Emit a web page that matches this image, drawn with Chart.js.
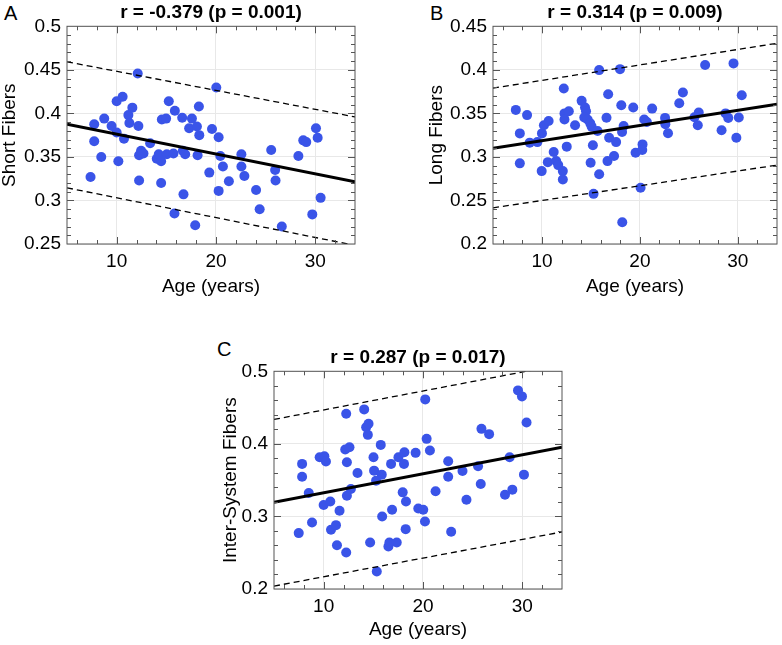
<!DOCTYPE html>
<html>
<head>
<meta charset="utf-8">
<script src="https://cdn.jsdelivr.net/npm/chart.js@4.4.1/dist/chart.umd.min.js"></script>
<style>
  body { margin: 0; background: #fff; }
  #wrap { position: relative; width: 782px; height: 645px; font-family: "Liberation Sans", Arial, sans-serif; }
  .panel { position: absolute; }
  .tag { position: absolute; font-size: 20px; line-height: 20px; color: #000; }
</style>
</head>
<body>
<div id="wrap">
  <div class="tag" style="left:4px;top:3px">A</div>
  <div class="tag" style="left:430px;top:3px">B</div>
  <div class="tag" style="left:217px;top:339px">C</div>
  <div class="panel" style="left:0px;top:0px"><canvas id="chartA" width="360" height="296"></canvas></div>
  <div class="panel" style="left:427px;top:0px"><canvas id="chartB" width="355" height="296"></canvas></div>
  <div class="panel" style="left:221px;top:345px"><canvas id="chartC" width="346" height="294"></canvas></div>
</div>
<script>
// ages (years) and fiber values
const ageA = [7.37, 7.74, 7.74, 8.45, 8.75, 9.49, 10.0, 10.6, 10.0, 10.17, 10.74, 11.18, 11.58, 11.28,
  12.12, 12.19, 12.26, 12.26, 12.46, 12.7, 13.37, 14.04, 14.24, 14.48, 14.55, 14.48, 14.98, 15.25,
  15.05, 15.72, 15.86, 15.82, 16.6, 16.67, 16.9, 16.73, 17.3, 17.58, 18.08, 18.28, 18.32, 18.15,
  17.91, 19.33, 19.6, 20.03, 20.27, 20.44, 20.27, 20.7, 21.3, 22.56, 22.56, 22.86, 24.04, 24.4,
  25.56, 25.96, 26.0, 26.63, 28.3, 28.79, 29.09, 30.07, 30.24, 29.7, 30.54];
const shortFibers = [0.327, 0.3875, 0.368, 0.350, 0.394, 0.3855, 0.414, 0.419, 0.378, 0.345, 0.371, 0.398, 0.4066, 0.389,
  0.4458, 0.3855, 0.323, 0.352, 0.357, 0.354, 0.3656, 0.348, 0.353, 0.345, 0.393, 0.320, 0.394, 0.414,
  0.353, 0.354, 0.403, 0.285, 0.395, 0.357, 0.353, 0.307, 0.383, 0.394, 0.385, 0.408, 0.375, 0.352,
  0.2716, 0.332, 0.382, 0.4297, 0.3725, 0.351, 0.311, 0.339, 0.322, 0.353, 0.339, 0.328, 0.312, 0.290,
  0.358, 0.335, 0.323, 0.270, 0.351, 0.369, 0.367, 0.383, 0.372, 0.284, 0.303];

const ageB = [7.33, 7.74, 7.74, 8.48, 8.75, 9.53, 9.97, 10.0, 10.2, 10.68, 10.6, 11.2, 11.45, 11.66,
  12.13, 12.13, 12.23, 12.3, 12.3, 12.74, 12.53, 13.38, 14.05, 14.4, 14.5, 14.32, 14.66, 14.93,
  15.07, 14.97, 15.2, 15.27, 15.68, 15.84, 15.84, 16.59, 16.76, 16.69, 16.86, 17.36, 17.57, 17.97,
  18.1, 18.18, 18.34, 18.2, 19.32, 19.56, 20.27, 20.24, 20.07, 20.44, 20.71, 21.25, 22.57, 22.6,
  22.87, 24.02, 24.39, 25.57, 25.91, 26.01, 26.66, 28.34, 28.75, 29.02, 29.56, 30.4, 30.1, 29.85];
const longFibers = [0.354, 0.327, 0.2926, 0.348, 0.3164, 0.317, 0.2837, 0.327, 0.3363, 0.3413, 0.294, 0.3056, 0.2953, 0.2906,
  0.2837, 0.274, 0.3786, 0.350, 0.343, 0.3525, 0.3118, 0.3363, 0.3644, 0.3567, 0.3525, 0.3452, 0.343, 0.3386,
  0.3348, 0.2933, 0.3133, 0.2576, 0.3298, 0.3997, 0.280, 0.345, 0.372, 0.2952, 0.322, 0.301, 0.317, 0.4008,
  0.3594, 0.3286, 0.3356, 0.225, 0.3567, 0.3048, 0.3144, 0.3079, 0.2645, 0.343, 0.340, 0.3555, 0.3448, 0.3375,
  0.3271, 0.3617, 0.374, 0.3455, 0.3363, 0.3509, 0.4055, 0.3306, 0.350, 0.3448, 0.4074, 0.3709, 0.3452, 0.3221];

const ageC = [7.49, 7.83, 7.83, 8.5, 8.83, 9.6, 10.07, 10.23, 10.0, 10.67, 10.74, 11.24, 11.34, 11.6,
  12.27, 12.27, 12.17, 12.6, 12.34, 12.34, 12.74, 13.41, 14.08, 14.28, 14.52, 14.45, 14.68, 15.02,
  15.08, 15.28, 15.35, 15.75, 15.85, 15.89, 16.52, 16.62, 16.79, 16.89, 17.36, 17.53, 18.09, 18.13,
  17.96, 18.29, 18.26, 19.26, 19.53, 20.03, 20.2, 20.23, 20.37, 20.7, 21.27, 22.54, 22.54, 22.84,
  23.98, 24.38, 25.55, 25.82, 25.89, 26.66, 28.26, 28.73, 29.0, 29.57, 29.97, 30.17, 30.43];
const interFibers = [0.277, 0.3724, 0.3548, 0.3323, 0.2917, 0.3816, 0.383, 0.3756, 0.3157, 0.3207, 0.2816, 0.288, 0.2604, 0.3078,
  0.2502, 0.4415, 0.3922, 0.3954, 0.3747, 0.3286, 0.3378, 0.3599, 0.4475, 0.423, 0.4276, 0.4124, 0.264, 0.3816,
  0.3631, 0.3493, 0.224, 0.3986, 0.3576, 0.300, 0.2585, 0.264, 0.3724, 0.3092, 0.264, 0.3816, 0.3724, 0.3885,
  0.3332, 0.3207, 0.2825, 0.3876, 0.311, 0.3092, 0.2931, 0.4613, 0.4069, 0.3908, 0.3346, 0.376, 0.3548, 0.2788,
  0.3627, 0.323, 0.3691, 0.3447, 0.4207, 0.4134, 0.330, 0.3816, 0.3369, 0.4737, 0.4654, 0.3576, 0.4295];

// fit line and prediction bounds: [age, value] at both ends
const fitA = [[5, 0.3875], [34, 0.3214]];
const upperA = [[5, 0.4592], [34, 0.3959]];
const lowerA = [[5, 0.3145], [34, 0.2484]];
const fitB = [[5, 0.3098], [34, 0.3605]];
const upperB = [[5, 0.379], [34, 0.4305]];
const lowerB = [[5, 0.2415], [34, 0.2906]];
const fitC = [[5, 0.3194], [34, 0.3954]];
const upperC = [[5, 0.4336], [34, 0.5094]];
const lowerC = [[5, 0.204], [34, 0.2786]];

const xTicks = [10, 20, 30];
const yTicksA = [0.25, 0.3, 0.35, 0.4, 0.45, 0.5];
const yTicksB = [0.2, 0.25, 0.3, 0.35, 0.4, 0.45];
const yTicksC = [0.2, 0.3, 0.4, 0.5];

const blue = 'rgb(58, 84, 232)';
const fontFamily = '"Liberation Sans", Arial, sans-serif';

function toPoints(xs, ys) {
  return xs.map((x, i) => ({x: x, y: ys[i]}));
}
function toLine(pairs) {
  return pairs.map(p => ({x: p[0], y: p[1]}));
}

// box frame with small inward ticks, like the original plots
const framePlugin = {
  id: 'frame',
  afterDraw(chart, args, opts) {
    const {ctx, chartArea: a, scales: {x, y}} = chart;
    ctx.save();
    ctx.strokeStyle = '#555';
    ctx.lineWidth = 1;
    ctx.strokeRect(a.left, a.top, a.right - a.left, a.bottom - a.top);
    ctx.beginPath();
    for (let v = 6; v < x.max; v += 2) {
      const px = Math.round(x.getPixelForValue(v)) + 0.5;
      const len = v % 10 === 0 ? 7 : 4;
      ctx.moveTo(px, a.bottom); ctx.lineTo(px, a.bottom - len);
      ctx.moveTo(px, a.top); ctx.lineTo(px, a.top + len);
    }
    const n = Math.round((y.max - y.min) / opts.minor);
    for (let i = 1; i < n; i++) {
      const v = y.min + i * opts.minor;
      const py = Math.round(y.getPixelForValue(v)) + 0.5;
      const major = Math.abs(v / opts.major - Math.round(v / opts.major)) < 1e-6;
      const len = major ? 7 : 4;
      ctx.moveTo(a.left, py); ctx.lineTo(a.left + len, py);
      ctx.moveTo(a.right, py); ctx.lineTo(a.right - len, py);
    }
    ctx.stroke();
    ctx.restore();
  }
};

function makeChart(id, cfg) {
  return new Chart(document.getElementById(id), {
    type: 'scatter',
    data: {
      datasets: [
        {data: toLine(cfg.fit), showLine: true, borderColor: '#000', borderWidth: 3, pointRadius: 0},
        {data: toLine(cfg.upper), showLine: true, borderColor: '#000', borderWidth: 1.3, borderDash: [6, 4], pointRadius: 0},
        {data: toLine(cfg.lower), showLine: true, borderColor: '#000', borderWidth: 1.3, borderDash: [6, 4], pointRadius: 0},
        {data: toPoints(cfg.ages, cfg.values), backgroundColor: blue, borderWidth: 0, pointRadius: 5}
      ]
    },
    options: {
      responsive: false,
      animation: false,
      events: [],
      layout: {padding: {right: cfg.padRight}},
      plugins: {
        legend: {display: false},
        tooltip: {enabled: false},
        title: {
          display: true,
          text: cfg.title,
          fullSize: false,
          color: '#000',
          font: {family: fontFamily, size: 19, weight: 'bold', lineHeight: 1.2},
          padding: {top: 1.5, bottom: 2}
        },
        frame: {minor: cfg.minor, major: cfg.major}
      },
      scales: {
        x: {
          type: 'linear',
          min: 5, max: 34,
          afterBuildTicks: s => { s.ticks = xTicks.map(v => ({value: v})); },
          afterFit: s => { s.height = cfg.xHeight; },
          grid: {color: '#e8e8e8', drawTicks: false},
          border: {display: false},
          ticks: {padding: 6, color: '#000', font: {family: fontFamily, size: 19}},
          title: {display: true, text: 'Age (years)', color: '#000', padding: 0,
                  font: {family: fontFamily, size: 19, lineHeight: 1}}
        },
        y: {
          type: 'linear',
          min: cfg.yTicks[0], max: cfg.yTicks[cfg.yTicks.length - 1],
          afterBuildTicks: s => { s.ticks = cfg.yTicks.map(v => ({value: v})); },
          afterFit: s => { s.width = cfg.yWidth; },
          grid: {color: '#e8e8e8', drawTicks: false},
          border: {display: false},
          ticks: {padding: 6, color: '#000', font: {family: fontFamily, size: 19},
                  callback: v => String(+v.toFixed(2))},
          title: {display: true, text: cfg.yLabel, color: '#000', padding: 0,
                  font: {family: fontFamily, size: 19, lineHeight: 1}}
        }
      }
    },
    plugins: [framePlugin]
  });
}

makeChart('chartA', {
  title: 'r = -0.379 (p = 0.001)', yLabel: 'Short Fibers',
  ages: ageA, values: shortFibers, fit: fitA, upper: upperA, lower: lowerA,
  yTicks: yTicksA, minor: 0.01, major: 0.05, yWidth: 67, xHeight: 52, padRight: 5
});
makeChart('chartB', {
  title: 'r = 0.314 (p = 0.009)', yLabel: 'Long Fibers',
  ages: ageB, values: longFibers, fit: fitB, upper: upperB, lower: lowerB,
  yTicks: yTicksB, minor: 0.01, major: 0.05, yWidth: 66, xHeight: 52, padRight: 4
});
makeChart('chartC', {
  title: 'r = 0.287 (p = 0.017)', yLabel: 'Inter-System Fibers',
  ages: ageC, values: interFibers, fit: fitC, upper: upperC, lower: lowerC,
  yTicks: yTicksC, minor: 0.02, major: 0.1, yWidth: 53, xHeight: 50, padRight: 4
});
</script>
</body>
</html>
